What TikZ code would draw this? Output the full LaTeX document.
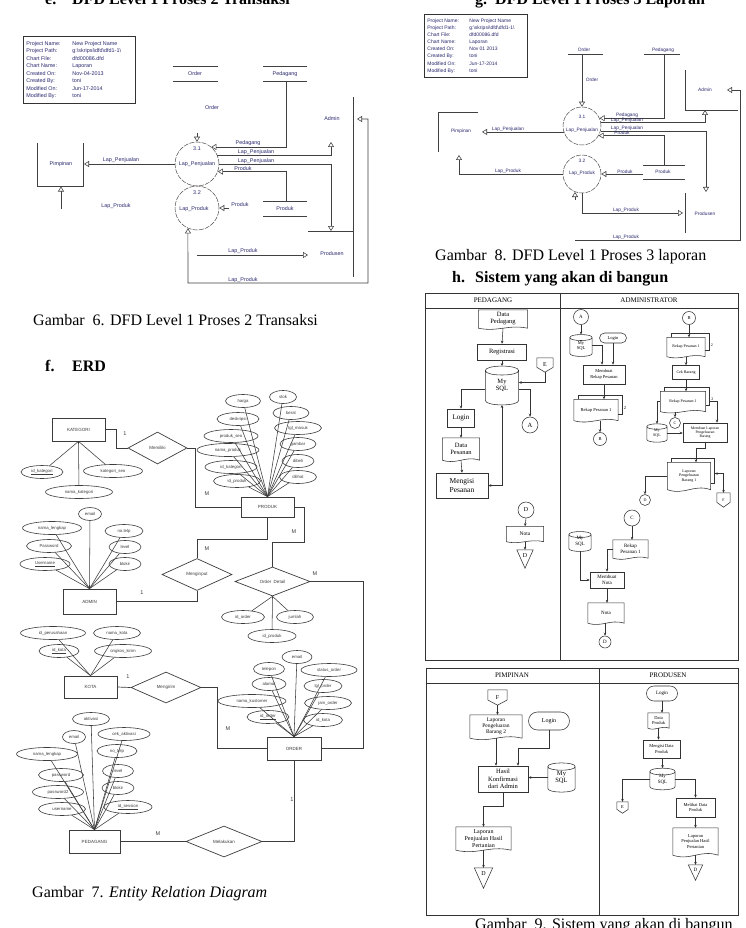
\documentclass[tikz,border=0pt]{standalone}
\usepackage{fontspec}
\setmainfont{Liberation Serif}
\newfontfamily\sansf{Liberation Sans}
\usetikzlibrary{shapes.geometric,shapes.misc,arrows.meta,calc}
\definecolor{navy}{RGB}{40,40,110}
\definecolor{ink}{RGB}{60,60,60}
\tikzset{
 headt/.style={font=\fontsize{16}{18}\selectfont\bfseries, inner sep=0},
 capt/.style={font=\fontsize{16}{18}\selectfont, inner sep=0},
 dl/.style={draw=black!75, line width=0.55pt},
 oa/.style={-{Triangle[open,length=5pt,width=6pt]}},
 ooa/.style={{Triangle[open,length=5pt,width=6pt]}-{Triangle[open,length=5pt,width=6pt]}},
 dt/.style={font=\sansf\fontsize{5.4}{6}\selectfont, text=navy, inner sep=0.3pt},
 dtt/.style={font=\sansf\fontsize{4.8}{5.4}\selectfont, text=navy, inner sep=0.3pt},
 proc/.style={circle, draw=black!70, line width=0.5pt, dash pattern=on 5pt off 1.2pt, inner sep=0},
 info/.style={draw=black!80, line width=0.8pt, anchor=north west, inner sep=3pt, align=left, text=navy},
 el/.style={draw=ink, line width=0.7pt},
 al/.style={draw=ink, line width=0.55pt},
 ent/.style={draw=ink, line width=0.75pt, rectangle, inner sep=0, font=\sansf\fontsize{4.5}{5}\selectfont, text=ink},
 attr/.style={draw=ink, line width=0.6pt, ellipse, inner sep=0, minimum height=13pt, font=\sansf\fontsize{4.3}{5}\selectfont, text=ink},
 rel/.style={diamond, draw=ink, line width=0.7pt, inner sep=0, font=\sansf\fontsize{4.5}{5}\selectfont, text=ink},
 card/.style={font=\sansf\fontsize{5.5}{6}\selectfont, text=ink, inner sep=0},
 fl/.style={draw=black!80, line width=0.55pt},
 fr/.style={draw=black!80, line width=0.9pt},
 fa/.style={-{Stealth[length=3pt,width=2.6pt]}},
 fab/.style={{Stealth[length=3pt,width=2.6pt]}-{Stealth[length=3pt,width=2.6pt]}},
 ft/.style={font=\fontsize{4.5}{5}\selectfont, align=center, inner sep=0.5pt},
 fbox/.style={draw=black!80, line width=0.55pt, rectangle, ft},
 fterm/.style={draw=black!80, line width=0.55pt, rounded rectangle, ft},
 fcirc/.style={draw=black!80, line width=0.55pt, circle, ft, inner sep=0},
 lane/.style={font=\fontsize{7}{8}\selectfont, inner sep=0},
}
\newcommand\fdoc[7][]{%
 \node[ft,#1,minimum width=#5pt,minimum height=#6pt,inner sep=0pt] (#2) at (#3,#4) {#7};
 \draw[fl] (#2.north west) -- (#2.north east) -- (#2.south east) .. controls +({-0.4*#5},{-0.22*#6}) and +({0.4*#5},{0.22*#6}) .. (#2.south west) -- cycle;}
\newcommand\fmdoc[7][]{%
 \fdoc[#1]{#2}{#3}{#4}{#5}{#6}{#7}
 \draw[fl] ([xshift=4pt]#2.north west) -- ++(0,-4) -- ([shift={(4,-4)}]#2.north east) -- ([shift={(4,-6)}]#2.south east) -- ([yshift=6pt]#2.south east);
 \node[ft,#1,anchor=west] at ([shift={(5,-2)}]#2.east) {2};}
\newcommand\fop[7][]{%
 \node[ft,#1,minimum width=#5pt,minimum height=#6pt,inner sep=0pt] (#2) at (#3,#4) {#7};
 \draw[fl] (#2.north west) -- (#2.north east) -- ([shift={(0,{-0.35*#6})}]#2.south east) -- (#2.south) -- ([shift={(0,{-0.35*#6})}]#2.south west) -- cycle;}
\newcommand\ftri[7][]{%
 \node[minimum width=#5pt,minimum height=#6pt,inner sep=0pt] (#2) at (#3,#4) {};
 \draw[fl] (#2.north west) -- (#2.north east) -- (#2.south) -- cycle;
 \node[ft,#1] at ([shift={(0,{-0.2*#6})}]#2.center) {#7};}
\newcommand\fcyl[7][]{%
 \node[ft,#1,minimum width=#5pt,minimum height=#6pt,inner sep=0pt] (#2) at (#3,#4) {#7};
 \draw[fl] (#2.north west) -- (#2.south west) .. controls +(0,{0.18*#5}) and +(0,{0.18*#5}) .. (#2.south east) -- (#2.north east) .. controls +(0,{-0.18*#5}) and +(0,{-0.18*#5}) .. (#2.north west) .. controls +(0,{0.18*#5}) and +(0,{0.18*#5}) .. (#2.north east);}

\begin{document}
\begin{tikzpicture}[x=1pt,y=-1pt]
\useasboundingbox (0,0) rectangle (746,928);
\fill[white] (0,0) rectangle (746,928);

%% ---------- headings and captions
\node[headt, anchor=base west] at (45,5) {e.};
\node[headt, anchor=base west] at (72,5) {DFD Level 1 Proses 2 Transaksi};
\node[headt, anchor=base west] at (475,5) {g.};
\node[headt, anchor=base west] at (495,5) {DFD Level 1 Proses 3 Laporan};
\node[capt, anchor=base west] at (33,325) {Gambar\ \ 6. DFD Level 1 Proses 2 Transaksi};
\node[capt, anchor=base west] at (435,260) {Gambar\ \ 8. DFD Level 1 Proses 3 laporan};
\node[headt, anchor=base west] at (452,282) {h.};
\node[headt, anchor=base west] at (475,282) {Sistem yang akan di bangun};
\node[headt, anchor=base west] at (45,371) {f.};
\node[headt, anchor=base west] at (72,371) {ERD};
\node[capt, anchor=base west] at (32,897) {Gambar\ \ 7. \textit{Entity Relation Diagram}};
\node[capt, anchor=base west] at (475,929) {Gambar\ \ 9. Sistem yang akan di bangun};

%% ---------- DFD 1 (Proses 2 Transaksi)
\node[info, font=\sansf\fontsize{5.4}{7.5}\selectfont, minimum width=112pt, minimum height=67pt] (info1) at (23,36) {%
\begin{tabular}{@{}p{46pt}@{}p{60pt}@{}}
Project Name: & New Project Name\\
Project Path: & g:\textbackslash skripsi\textbackslash dfd\textbackslash dfd1-1\textbackslash\\
Chart File: & dfd00086.dfd\\
Chart Name: & Laporan\\
Created On: & Nov-04-2013\\
Created By: & toni\\
Modified On: & Jun-17-2014\\
Modified By: & toni
\end{tabular}};
\node[dt] (o1) at (195,74) {Order};
\draw[dl] (173,66.7) -- (218,66.7) (173,81) -- (218,81);
\node[dt] (pd1) at (285,74) {Pedagang};
\draw[dl] (263,66.7) -- (307,66.7) (263,81) -- (307,81);
\node[dt] at (212,108) {Order};
\node[proc, minimum size=44pt] (p31) at (197,164) {};
\node[dt] at (197,149) {3.1};
\node[dt] at (197,164) {Lap\_Penjualan};
\node[proc, minimum size=44pt] (p32) at (197,208) {};
\node[dt] at (197,193) {3.2};
\node[dt] at (194,209) {Lap\_Produk};
\draw[dl,oa] (197,133) -- (p31.north);
\draw[dl,oa] (286,81) |- (p31.50);
\node[dt,anchor=south] at (248,146.5) {Pedagang};
\draw[dl,oa] (p31.24) -| (331,142);
\node[dt,anchor=south] at (256,154.7) {Lap\_Penjualan};
\draw[dl,oa] (p31.east) -| (331,231);
\node[dt,anchor=south] at (256,163.7) {Lap\_Penjualan};
\node[dt] (pr1) at (285,209) {Produk};
\draw[dl] (263,201) -- (307,201) (263,216) -- (307,216);
\draw[dl,oa] (286,201) |- (p31.-20);
\node[dt,anchor=south] at (243,171.2) {Produk};
\draw[dl,oa] (229,208) -- (p32.east);
\node[dt] at (240,205) {Produk};
\draw[dl] (37,143) -- (37,186) -- (83,186) -- (83,143);
\node[dt] (pim1) at (61,164) {Pimpinan};
\draw[dl,oa] (p31.west) -- (84,164);
\node[dt,anchor=south] at (121,163.5) {Lap\_Penjualan};
\draw[dl,oa] (61,209) -- (61,186.5);
\node[dt] at (116,206) {Lap\_Produk};
\node[dt] (adm1) at (332,119) {Admin};
\draw[dl] (353,97) -- (353,277);
\draw[dl] (308,231) -- (353,231);
\node[dt] (prs1) at (332,254) {Produsen};
\draw[dl,ooa] (p32.-114) -- (188,283) -- (368,283) -- (368,119) -- (357,119);
\node[dt,anchor=south] at (243,282.7) {Lap\_Produk};
\draw[dl,oa] (197,255) -- (308,255);
\node[dt,anchor=south] at (243,254.5) {Lap\_Produk};

%% ---------- DFD 2 (Proses 3 Laporan)
\node[info, font=\sansf\fontsize{5}{7.1}\selectfont, minimum width=103pt, minimum height=63pt] (info2) at (424,14) {%
\begin{tabular}{@{}p{42pt}@{}p{55pt}@{}}
Project Name: & New Project Name\\
Project Path: & g:\textbackslash skripsi\textbackslash dfd\textbackslash dfd1-1\textbackslash\\
Chart File: & dfd00086.dfd\\
Chart Name: & Laporan\\
Created On: & Nov 01 2013\\
Created By: & toni\\
Modified On: & Jun-17-2014\\
Modified By: & toni
\end{tabular}};
\node[dtt] (o2) at (584,50) {Order};
\draw[dl] (568,54.5) -- (603,54.5);
\node[dtt] (pd2) at (663,50) {Pedagang};
\draw[dl] (644,54.5) -- (680,54.5);
\node[proc, minimum size=38pt] (q31) at (582,126) {};
\node[dtt] at (582,117) {3.1};
\node[dtt] at (582,130) {Lap\_Penjualan};
\node[proc, minimum size=38pt] (q32) at (582,174) {};
\node[dtt] at (582,161) {3.2};
\node[dtt] at (582,173) {Lap\_Produk};
\draw[dl,oa] (582,54.5) -- (q31.north);
\node[dtt] at (592,80) {Order};
\draw[dl,oa] (664,54.5) |- (q31.24);
\node[dtt,anchor=south] at (627,118) {Pedagang};
\draw[dl] (685,70) -- (685,110) -- (738,110);
\node[dtt] (adm2) at (705,90) {Admin};
\draw[dl,oa] (q31.10) -| (705,110);
\node[dtt,anchor=south] at (627,122.6) {Lap\_Penjualan};
\draw[dl,oa] (q31.-15) -| (706,192);
\node[dtt,anchor=south] at (627,130.6) {Lap\_Penjualan};
\node[dtt] (pr2) at (663,172) {Produk};
\draw[dl] (643,165) -- (685,165) (643,179) -- (685,179);
\draw[dl,oa] (664,165) |- (q31.-30);
\node[dtt,anchor=south] at (622,135.3) {Produk};
\draw[dl,oa] (643,174) -- (q32.east);
\node[dtt,anchor=south] at (625,173.6) {Produk};
\draw[dl] (478,112) -- (438,112) -- (438,152);
\node[dtt] (pim2) at (461,131) {Pimpinan};
\draw[dl,oa] (q31.198) -- (q31.198 -| 482,0);
\node[dtt,anchor=south] at (508,131.6) {Lap\_Penjualan};
\draw[dl,oa] (q32.west) -| (459,155);
\node[dtt,anchor=south] at (508,173.6) {Lap\_Produk};
\draw[dl] (685,193) -- (685,233);
\node[dtt] (prs2) at (705,214) {Produsen};
\draw[dl,oa] (q32.south) |- (683,213);
\node[dtt,anchor=south] at (626,212.6) {Lap\_Produk};
\draw[dl,oa] (575,200) -- (575,192);
\draw[dl,oa] (575,240) -- (740,240) -- (740,90) -- (727,90);
\node[dtt,anchor=south] at (626,239.6) {Lap\_Produk};

%% ---------- ERD
\node[ent, minimum width=53pt, minimum height=23pt] (kat) at (78.5,429.5) {KATEGORI};
\node[ent, minimum width=53pt, minimum height=20pt] (prod) at (267.5,507) {PRODUK};
\node[ent, minimum width=53pt, minimum height=25pt] (adm) at (89.5,601.5) {ADMIN};
\node[ent, minimum width=53pt, minimum height=22pt] (kota) at (90.5,687) {KOTA};
\node[ent, minimum width=54pt, minimum height=23pt] (ord) at (294,748.5) {ORDER};
\node[ent, minimum width=51pt, minimum height=23pt] (ped) at (94.5,841.5) {PEDAGANG};
\node[rel, minimum width=59pt, minimum height=32pt] (memi) at (157.5,448) {Memiliki};
\node[rel, minimum width=70pt, minimum height=32pt] (mginp) at (197,574.5) {Menginput};
\node[rel, minimum width=75pt, minimum height=29pt] (odet) at (272.5,581.5) {Order\ \ Detail};
\node[rel, minimum width=70pt, minimum height=31pt] (mgkr) at (166,687.5) {Mengirim};
\node[rel, minimum width=76pt, minimum height=31pt] (mlkk) at (224,841.5) {Melakukan};

\foreach \n/\x/\y/\w/\t in {pa/243/401/35/harga, pb/238/419/42/deskripsi, pc/231/436/54/produk\_seo, pd/228/450/62/nama\_produk, pe/231/467/52/id\_kategori, pf/237/481/47/id\_produk, pg/283/397/27/stok, ph/291/413/36/berat, pi/298/428/47/tgl\_masuk, pj/298/444/36/gambar, pk/298/461/32/dibeli, pl/298/477/37/dilihat}
 {\node[attr, minimum width=\w pt] (\n) at (\x,\y) {\t}; \draw[al] (prod.north) -- (\n);}
\foreach \n/\x/\y/\w/\t in {ka/42/472/42/{\underline{id\_kategori}}, kb/113/471/59/kategori\_seo, kc/79/492/67/nama\_kategori}
 {\node[attr, minimum width=\w pt] (\n) at (\x,\y) {\t}; \draw[al] (kat.south) -- (\n);}
\foreach \n/\x/\y/\w/\t in {aa/90/514/23/email, ab/52/528/59/nama\_lengkap, ac/124/531/38/no.telp, ad/49/546/45/Password, ae/125/547/32/level, af/45/564/50/{\underline{Username}}, ag/125/564/32/blokir}
 {\node[attr, minimum width=\w pt] (\n) at (\x,\y) {\t}; \draw[al] (adm.north) -- (\n);}
\foreach \n/\x/\y/\w/\t in {ta/53/633/65/id\_perusahaan, tb/117/633/47/nama\_kota, tc/59/651/40/{\underline{id\_kota}}, td/123/651/57/ongkos\_kirim}
 {\node[attr, minimum width=\w pt] (\n) at (\x,\y) {\t}; \draw[al] (kota.north) -- (\n);}
\foreach \n/\x/\y/\w/\t in {oa1/297/657/30/email, ob/269/669/31/telepon, oc/329/670/56/status\_order, od/269/684/34/alamat, oe/323/686/38/tgl\_order, of/252/701/68/nama\_kustomer, og/328/703/47/jam\_order, oh/268/717/42/{\underline{id\_order}}, oi/323/720/39/id\_kota}
 {\node[attr, minimum width=\w pt] (\n) at (\x,\y) {\t}; \draw[al] (ord.north) -- (\n);}
\foreach \n/\x/\y/\w/\t in {da/91/719/37/aktivasi, db/74/737/23/email, dc/124/734/52/cek\_aktivasi, dd/47/754/61/nama\_lengkap, de/117/751/40/no\_telp, df/61/775/45/password, dg/118/771/31/level, dh/58/792/51/password2, di/118/788/32/blokir, dj/62/809/47/username, dk/128/807/48/{\underline{id\_session}}}
 {\node[attr, minimum width=\w pt] (\n) at (\x,\y) {\t}; \draw[al] (ped.north) -- (\n);}
\foreach \n/\x/\y/\w/\t in {xa/243/617/43/id\_order, xb/295/617/37/jumlah, xc/272/636/48/id\_produk}
 {\node[attr, minimum width=\w pt] (\n) at (\x,\y) {\t}; \draw[al] (odet.south) -- (\n);}

\draw[el] (kat.east) -- (116,429.5) -- (116,448) -- (memi.west);
\draw[el] (memi.east) -| (195,507) -- (prod.west);
\draw[el] (prod.south) -- (267.5,539) -| (mginp.north);
\draw[el] (adm.east) -| (mginp.south);
\draw[el] (prod.east) -- (304,507) -- (304,542) -| (odet.north);
\draw[el] (odet.east) -- (363,581.5) |- (ord.east);
\draw[el] (kota.east) -- (mgkr.west);
\draw[el] (mgkr.east) -- (217,687.5) |- (ord.west);
\draw[el] (ped.east) -- (mlkk.west);
\draw[el] (mlkk.east) -| (ord.south);
\node[card] at (125,434) {1};
\node[card] at (207,494) {M};
\node[card] at (207,549) {M};
\node[card] at (142,593) {1};
\node[card] at (294,532) {M};
\node[card] at (315,574) {M};
\node[card] at (128,677) {1};
\node[card] at (228,728.5) {M};
\node[card] at (158,834) {M};
\node[card] at (292,800) {1};

%% ---------- Flowchart frames
\draw[fr] (425,293) rectangle (738,660);
\draw[fr] (425,308) -- (738,308) (560,293) -- (560,660);
\node[lane] at (493,300.5) {PEDAGANG};
\node[lane] at (649,300.5) {ADMINISTRATOR};
\draw[fr] (426,668) rectangle (738,915);
\draw[fr] (426,683) -- (738,683) (599,668) -- (599,915);
\node[lane] at (512,675.5) {PIMPINAN};
\node[lane] at (668,675.5) {PRODUSEN};

%% Pedagang lane
\fdoc[font=\fontsize{6.5}{7}\selectfont]{dp}{503}{319}{49}{18}{Data\\Pedagang}
\node[fbox, font=\fontsize{6.5}{7}\selectfont, minimum width=49pt, minimum height=16pt] (reg) at (502,352) {Registrasi};
\fcyl[font=\fontsize{6.5}{7}\selectfont]{sqla}{502}{385.5}{33}{29.5}{My\\SQL}
\fop[font=\fontsize{6}{7}\selectfont]{ea}{545}{365}{16}{14}{E}
\node[fcirc, font=\fontsize{6.5}{7}\selectfont, minimum size=16pt] (ca) at (530,425) {A};
\node[fbox, font=\fontsize{7}{8}\selectfont, minimum width=27pt, minimum height=18pt] (loga) at (461,418) {Login};
\fdoc[font=\fontsize{6.5}{7.2}\selectfont]{dpes}{461}{449}{37}{22}{Data\\Pesanan}
\node[fbox, font=\fontsize{7.5}{8.5}\selectfont, minimum width=52pt, minimum height=25pt] (meng) at (462,485.5) {Mengisi\\Pesanan};
\node[fcirc, font=\fontsize{6}{7}\selectfont, minimum size=16pt] (cda) at (526,510) {D};
\fdoc[font=\fontsize{5.5}{6}\selectfont]{notaa}{525}{534}{37}{15}{Nota}
\ftri[font=\fontsize{6}{7}\selectfont]{tda}{525}{559}{16}{18}{D}
\draw[fl,fa] (dp.south) -- (reg.north);
\draw[fl,fa] (reg.south) -- ([yshift=4.5pt]sqla.north);
\draw[fl,fa] (ea.south) |- ([yshift=3pt]sqla.east);
\draw[fl,fa] ([yshift=-4pt]sqla.east) -| (ca.north);
\draw[fl,fa] ([yshift=-4pt]sqla.west) -| (loga.north);
\draw[fl,fa] (loga.south) -- (dpes.north);
\draw[fl,fa] (dpes.south) -- (meng.north);
\draw[fl,fab] (meng.east) -| ([yshift=-4.5pt]sqla.south);
\draw[fl,fa] (cda.south) -- (notaa.north);
\draw[fl,fa] (notaa.south) -- (tda.north);

%% Administrator lane, left column
\node[fcirc, font=\fontsize{5}{6}\selectfont, minimum size=15pt] (cab) at (581,317) {A};
\fcyl[font=\fontsize{4.5}{5}\selectfont]{sqlb}{581}{345.5}{22}{15.5}{My\\SQL}
\node[fterm, font=\fontsize{4.5}{5}\selectfont, minimum width=28pt, minimum height=10pt] (logb) at (613,338) {Login};
\node[fbox, font=\fontsize{4.5}{5.2}\selectfont, minimum width=42pt, minimum height=19pt] (mrp) at (604,374.5) {Membuat\\Rekap Pesanan};
\fmdoc[font=\fontsize{4.5}{5}\selectfont]{rpa}{596}{410}{44}{21}{Rekap Pesanan 1}
\node[fcirc, font=\fontsize{4.5}{5}\selectfont, minimum size=13pt] (cbb) at (600,439) {B};
\draw[fl,fa] (cab.south) -- ([yshift=3pt]sqlb.north);
\draw[fl,fa] (sqlb.east) -| ([xshift=-2pt]mrp.north);
\draw[fl,fa] (logb.south) -- (logb.south |- mrp.north);
\draw[fl,fa] (mrp.south) -- (mrp.south |- rpa.north);
\draw[fl,fa] (cbb.north |- rpa.south) -- (cbb.north);

%% Administrator lane, right column
\node[fcirc, font=\fontsize{4.5}{5}\selectfont, minimum size=13pt] (cbc) at (689,318) {B};
\fmdoc[font=\fontsize{4}{4.5}\selectfont]{rpb}{686}{347}{38}{19}{Rekap Pesanan 1}
\node[fbox, font=\fontsize{4}{4.5}\selectfont, minimum width=27pt, minimum height=14pt] (ceb) at (686,372.5) {Cek Barang};
\fmdoc[font=\fontsize{4}{4.5}\selectfont]{rpc}{683}{401.5}{45}{20}{Rekap Pesanan 1}
\fcyl[font=\fontsize{4}{4.5}\selectfont]{sqlc}{657}{433}{20}{12.5}{My\\SQL}
\node[fcirc, font=\fontsize{4}{4.5}\selectfont, minimum size=11pt] (ccc) at (675,423) {C};
\node[fbox, font=\fontsize{3.8}{4.3}\selectfont, minimum width=44pt, minimum height=19pt] (mlpb) at (705,432.5) {Membuat Laporan\\Pengeluaran\\Barang};
\fmdoc[font=\fontsize{4}{4.5}\selectfont]{lpba}{689}{476}{43}{27}{Laporan\\Pengeluaran\\Barang 1}
\node[fcirc, font=\fontsize{4}{4.5}\selectfont, minimum size=11pt] (cdb) at (645,500) {D};
\fop[font=\fontsize{4}{4.5}\selectfont]{fa1}{723.5}{500}{13}{14}{F}
\draw[fl,fa] (cbc.south) -- (cbc.south |- rpb.north);
\draw[fl,fa] (ceb.north |- rpb.south) -- (ceb.north);
\draw[fl,fa] (ceb.south) -- (ceb.south |- rpc.north);
\draw[fl,fa] (rpc.west) -| ([yshift=2.7pt]sqlc.north);
\draw[fl,fa] (ccc.north |- rpc.south) -- (ccc.north);
\draw[fl,fa] (sqlc.east) -- (sqlc.east -| mlpb.west);
\draw[fl,fa] ([xshift=4pt]rpc.east) -| ([xshift=12pt]mlpb.north);
\draw[fl,fa] (mlpb.south) -- ++(0,6) -| ([xshift=7pt]lpba.north);
\draw[fl,fa] (lpba.west) -| (cdb.north);
\draw[fl,fa] ([shift={(4,-3)}]lpba.east) -| (fa1.north);

\node[fcirc, font=\fontsize{5}{6}\selectfont, minimum size=16pt] (ccd) at (632,518) {C};
\fdoc[font=\fontsize{5}{5.6}\selectfont]{rpd}{630.5}{549}{35}{18}{Rekap\\Pesanan 1}
\fcyl[font=\fontsize{5}{5.6}\selectfont]{sqld}{580}{541.5}{22}{13.5}{My\\SQL}
\node[fbox, font=\fontsize{5}{5.6}\selectfont, minimum width=34pt, minimum height=16pt] (mn) at (607,580) {Membuat\\Nota};
\fdoc[font=\fontsize{5}{5.6}\selectfont]{notab}{606}{613}{36}{20}{Nota}
\node[fcirc, font=\fontsize{5}{6}\selectfont, minimum size=12pt] (cdc) at (605,642) {D};
\draw[fl,fa] (ccd.south) -- (ccd.south |- rpd.north);
\draw[fl,fa] (rpd.west) -| (mn.north);
\draw[fl,fa] ([yshift=-3pt]sqld.south) |- (mn.west);
\draw[fl,fa] (mn.south) -- (mn.south |- notab.north);
\draw[fl,fa] (cdc.north |- notab.south) -- (cdc.north);

%% Pimpinan lane
\fop[font=\fontsize{6}{7}\selectfont]{fb}{497.5}{697.5}{19}{15}{F}
\fdoc[font=\fontsize{5.5}{6.2}\selectfont]{lpbb}{496}{726.5}{52}{23}{Laporan\\Pengeluaran\\Barang 2}
\node[fterm, font=\fontsize{6}{7}\selectfont, minimum width=42pt, minimum height=18pt] (logc) at (549,721) {Login};
\node[fbox, font=\fontsize{6.5}{7.5}\selectfont, minimum width=50pt, minimum height=26pt] (hk) at (503,779) {Hasil\\Konfirmasi\\dari Admin};
\fcyl[font=\fontsize{6.5}{7.5}\selectfont]{sqle}{561.5}{777.5}{27}{21.5}{My\\SQL}
\fdoc[font=\fontsize{6}{6.8}\selectfont]{lphp}{483.5}{838.5}{55}{23}{Laporan\\Penjualan Hasil\\Pertanian}
\ftri[font=\fontsize{6}{7}\selectfont]{tdb}{483.5}{878}{18}{20}{D}
\draw[fl,fa] (fb.south) -- (fb.south |- lpbb.north);
\draw[fl,fa] (lpbb.south) -- (lpbb.south |- hk.north);
\draw[fl,fa] (logc.south) -- ++(0,18) -| ([xshift=15pt]hk.north);
\draw[fl,fa] (sqle.west) -- (sqle.west -| hk.east);
\draw[fl,fa] (hk.south) -- ++(0,14) -| (lphp.north);
\draw[fl,fa] (lphp.south) -- (tdb.north);

%% Produsen lane
\node[fterm, font=\fontsize{5}{6}\selectfont, minimum width=32pt, minimum height=15pt] (logd) at (662,693.5) {Login};
\fdoc[font=\fontsize{4.5}{5}\selectfont]{dpr}{658.5}{720.5}{21}{15}{Data\\Produk}
\node[fbox, font=\fontsize{4.5}{5.2}\selectfont, minimum width=37pt, minimum height=18pt] (mdp) at (661.5,749) {Mengisi Data\\Produk};
\fcyl[font=\fontsize{5}{5.6}\selectfont]{sqlf}{662.5}{779}{25}{14.5}{My\\SQL}
\fop[font=\fontsize{4.5}{5}\selectfont]{eb}{622.5}{807.5}{11}{11}{E}
\node[fbox, font=\fontsize{4.5}{5.2}\selectfont, minimum width=39pt, minimum height=19pt] (mlp) at (695.5,807.5) {Melihat Data\\Produk};
\fdoc[font=\fontsize{4.5}{5.2}\selectfont]{lphq}{695.5}{841.5}{45}{27}{Laporan\\Penjualan Hasil\\Pertanian}
\ftri[font=\fontsize{5}{6}\selectfont]{tdc}{695.5}{872.5}{14}{15}{D}
\draw[fl,fa] (logd.south) -- (logd.south |- dpr.north);
\draw[fl,fa] (dpr.south) -- (dpr.south |- mdp.north);
\draw[fl,fa] (mdp.south -| sqlf.north) -- ([yshift=3.4pt]sqlf.north);
\draw[fl,fa] (sqlf.west) -| (eb.north);
\draw[fl,fa] (sqlf.east) -| (mlp.north);
\draw[fl,fa] (mlp.south) -- (mlp.south |- lphq.north);
\draw[fl,fa] (lphq.south) -- (tdc.north);
\end{tikzpicture}
\end{document}
